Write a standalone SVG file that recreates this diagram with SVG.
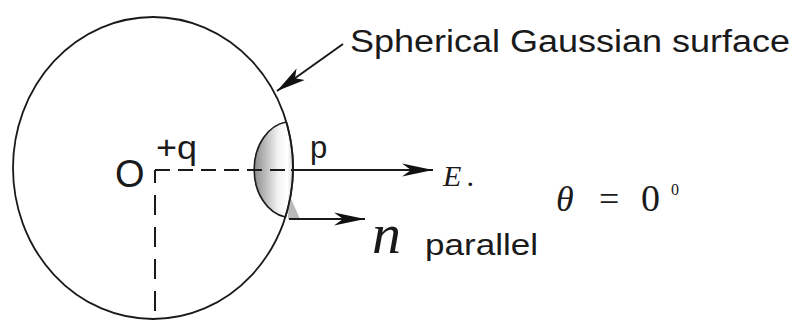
<svg xmlns="http://www.w3.org/2000/svg" width="797" height="321" viewBox="0 0 797 321">
<style>
.sans{font-family:"Liberation Sans",Arial,sans-serif;fill:#1a1a1a}
.serif{font-family:"Liberation Serif","Times New Roman",serif;fill:#1a1a1a}
.it{font-style:italic}
.ln{stroke:#1a1a1a;stroke-width:2;fill:none}
</style>
<defs>
<linearGradient id="capg" gradientUnits="userSpaceOnUse" x1="250" y1="0" x2="294" y2="0">
<stop offset="0" stop-color="#7a7a7a"/>
<stop offset="0.65" stop-color="#f4f4f4"/>
<stop offset="0.85" stop-color="#ffffff"/>
<stop offset="1" stop-color="#cfcfcf"/>
</linearGradient>
<marker id="barb" markerUnits="userSpaceOnUse" markerWidth="32" markerHeight="16" viewBox="0 0 32 16" refX="31" refY="8" orient="auto">
<path d="M0,1.5 L31,8 L0,14.5 L9,8 z" fill="#111"/>
</marker>
<marker id="ptr" markerUnits="userSpaceOnUse" markerWidth="30" markerHeight="16" viewBox="0 0 30 16" refX="29" refY="8" orient="auto">
<path d="M0,1 L29,8 L0,15 L7,8 z" fill="#111"/>
</marker>
</defs>
<g id="cap">
<path d="M286.3,122 A37,48 0 0 0 285.4,217 A140,151 0 0 0 286.3,122 z" fill="url(#capg)" stroke="#1a1a1a" stroke-width="1.6"/>
<polygon points="289,194 300,219 288,219" fill="#a8a8a8" opacity="0.8"/>
</g>
<g id="connectors">
<line class="ln" x1="155" y1="170" x2="291" y2="170" stroke-dasharray="15 8"/>
<line class="ln" x1="155" y1="170" x2="155" y2="321" stroke-dasharray="20 12" stroke-dashoffset="7"/>
<line class="ln" x1="291" y1="170" x2="433" y2="170" marker-end="url(#barb)"/>
<line class="ln" x1="289" y1="219" x2="365" y2="219" marker-end="url(#barb)"/>
<line class="ln" x1="343" y1="44" x2="277" y2="91" stroke-width="1.8" marker-end="url(#ptr)"/>
</g>
<g id="sphere">
<ellipse cx="153" cy="168" rx="140" ry="151" fill="none" stroke="#1a1a1a" stroke-width="1.8"/>
</g>
<g id="label-surface">
<text class="sans" x="350" y="52" font-size="31" textLength="440" lengthAdjust="spacingAndGlyphs">Spherical Gaussian surface</text>
</g>
<g id="origin">
<text class="sans" x="115" y="187" font-size="38">O</text>
<text class="sans" x="156" y="159" font-size="33" textLength="41" lengthAdjust="spacingAndGlyphs">+q</text>
</g>
<g id="point-p">
<text class="sans" x="310" y="158" font-size="31">p</text>
</g>
<g id="label-E">
<text class="serif it" x="443" y="186" font-size="30">E<tspan dx="6">.</tspan></text>
</g>
<g id="label-n">
<text class="serif it" x="372" y="253" font-size="58">n</text>
<text class="sans" x="425" y="255" font-size="30" textLength="113" lengthAdjust="spacingAndGlyphs">parallel</text>
</g>
<g id="label-theta">
<text class="serif" font-size="36"><tspan class="it" x="556" y="211">θ</tspan><tspan x="599" y="211">=</tspan><tspan x="641" y="211" font-size="38">0</tspan><tspan x="671" y="195" font-size="16">0</tspan></text>
</g>
</svg>
